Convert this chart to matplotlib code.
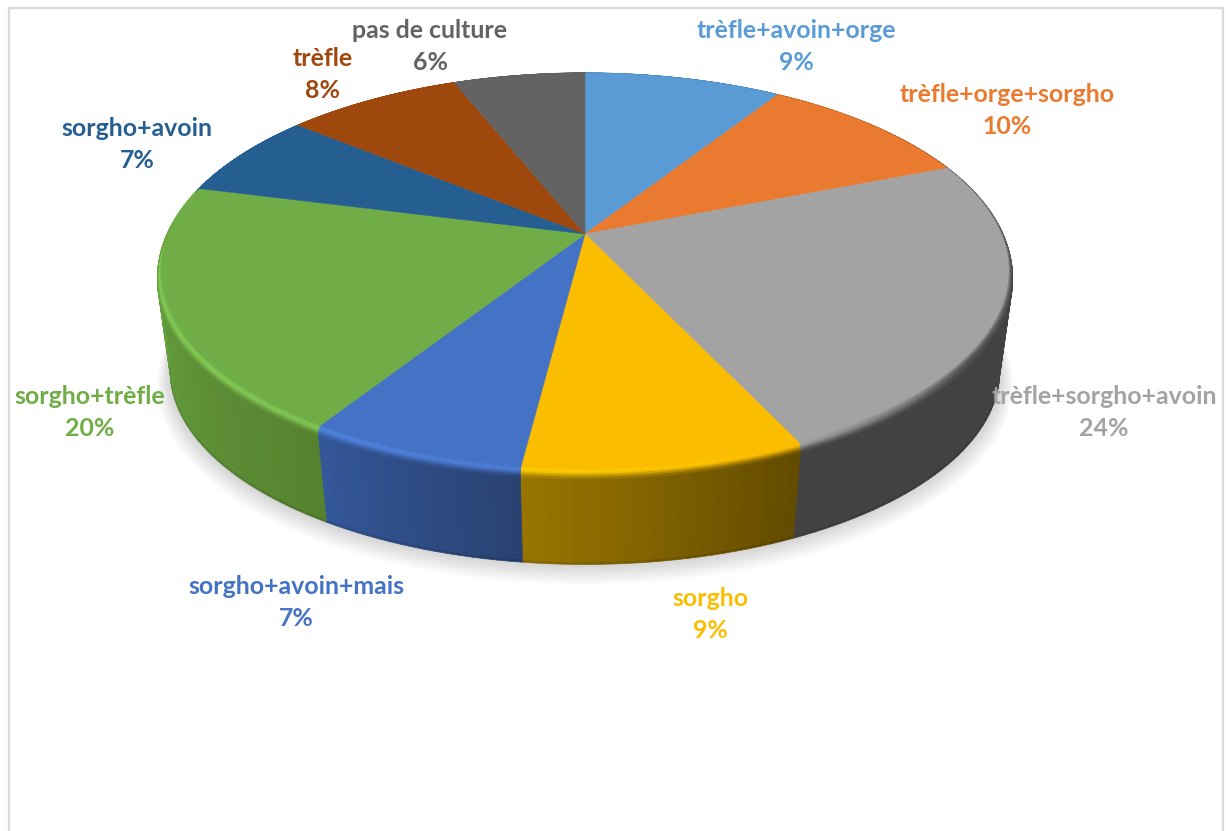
import numpy as np
import matplotlib
matplotlib.use("Agg")
import matplotlib.pyplot as plt
from matplotlib.collections import PolyCollection
from matplotlib.colors import to_rgb

# Values and labels
categories = ["trèfle+avoin+orge", "trèfle+orge+sorgho", "trèfle+sorgho+avoin", "sorgho",
              "sorgho+avoin+mais", "sorgho+trèfle", "sorgho+avoin", "trèfle", "pas de culture"]
values = [9, 10, 24, 9, 7, 20, 7, 8, 6]
colors = ["#5b9bd5", "#ea7a2f", "#a3a3a3", "#fbbd00", "#4472c4", "#70ad47", "#255e91", "#9e480e", "#636363"]

# side wall colours (right end, left end of the visible part)
side_right = ["#2d4e6b", "#774018", "#424242", "#634b00", "#294272", "#56822f", "#1a4268", "#6f3209", "#454545"]
side_left = ["#2d4e6b", "#774018", "#424242", "#9b7700", "#34589a", "#66a040", "#1a4268", "#6f3209", "#454545"]

# label centres, first line and second line, in pixels
label_x = [796, 1007, 1104, 710, 296, 90, 137, 323, 430]
label_y1 = [30, 94, 397, 598, 586, 397, 129, 58, 30]
label_y2 = [62, 126, 429, 630, 618, 429, 161, 90, 62]

# perspective of the disc
cx, cy = 585, 234
a, b, k = 416, 190.8, 0.185
depth, shrink = 101, 0.98
rim_r, rim_z = 1.01, 8


def project(theta, r=1.0, z=0.0):
    # theta in degrees, clockwise from the top of the pie
    t = np.radians(theta)
    w = 1 + k * r * np.cos(t)
    return cx + a * r * np.sin(t) / w, cy - b * r * np.cos(t) / w + z


def bottom(theta, grow=1.0):
    x, y = project(theta)
    return cx + shrink * grow * (x - cx), cy + depth + shrink * grow * (y - cy)


def mix(c1, c2, f):
    c1, c2 = np.array(to_rgb(c1)), np.array(to_rgb(c2))
    return tuple(c1 + (c2 - c1) * f)


def brighten(c, f):
    return tuple(np.clip(np.array(to_rgb(c)) * (1 + f), 0, 1))


fig = plt.figure(figsize=(12.26, 8.31), dpi=100)
ax = fig.add_axes([0, 0, 1, 1])
ax.set_xlim(0, 1226)
ax.set_ylim(831, 0)
ax.axis("off")

# chart frame
ax.plot([8.5, 8.5, 1223, 1223], [840, 8, 8, 840], color="#d9d9d9", lw=1.6)

edges = np.cumsum([0] + values) * 3.6

# soft shadow under the pie
all_theta = np.linspace(0, 360, 361)
n_shadow = 14
for i in range(n_shadow):
    f = (n_shadow - i) / n_shadow
    sx, sy = bottom(all_theta, 1 + 0.032 * f)
    ax.fill(sx, sy + 13 * f, color="black", alpha=0.011, lw=0, zorder=1)

# side wall, slice by slice
quads, quad_cols = [], []
for idx in range(len(values)):
    lo, hi = max(edges[idx], 100), min(edges[idx + 1], 260)
    if hi <= lo:
        continue
    # solid underlay so the thin strips leave no seams
    arc = np.linspace(lo, hi, 60)
    tx, ty = project(arc, rim_r, rim_z)
    bx, by = bottom(arc)
    ax.fill(np.r_[tx, bx[::-1]], np.r_[ty, by[::-1] - 1], lw=0, zorder=1.5,
            color=mix(side_right[idx], side_left[idx], 0.5))
    steps = np.linspace(lo, hi, int((hi - lo) / 1.5) + 2)
    for th0, th1 in zip(steps[:-1], steps[1:]):
        col = mix(side_right[idx], side_left[idx], (th0 - lo) / (hi - lo))
        x0, y0 = project(th0, rim_r, rim_z)
        x1, y1 = project(th1, rim_r, rim_z)
        x2, y2 = bottom(th1)
        x3, y3 = bottom(th0)
        quads.append([(x0, y0), (x1, y1), (x2, y2 - 2), (x3, y3 - 2)])
        quad_cols.append(col)
        # darker lip at the bottom edge
        quads.append([(x3, y3 - 2), (x2, y2 - 2), (x2, y2), (x3, y3)])
        quad_cols.append(mix(col, "black", 0.1))
ax.add_collection(PolyCollection(quads, facecolors=quad_cols, edgecolors=quad_cols, linewidths=0.5, zorder=2))

# rounded rim between top face and side wall
rim_quads, rim_cols = [], []
n_band = 8
for idx in range(len(values)):
    lo, hi = max(edges[idx], 100), min(edges[idx + 1], 260)
    steps = np.linspace(edges[idx], edges[idx + 1], int(values[idx] * 3.6) + 2)
    base = colors[idx]
    for th0, th1 in zip(steps[:-1], steps[1:]):
        f = np.clip((th0 - lo) / max(hi - lo, 1), 0, 1)
        wall = mix(side_right[idx], side_left[idx], f)
        light = np.cos(np.radians(th0 - 245))
        peak = brighten(base, 0.18 * light) if light > 0 else mix(base, wall, min(-light * 1.6, 0.8))
        for j in range(n_band):
            t0, t1 = j / n_band, (j + 1) / n_band
            r0 = 1 + (rim_r - 1) * np.sin(t0 * np.pi / 2)
            r1 = 1 + (rim_r - 1) * np.sin(t1 * np.pi / 2)
            z0 = rim_z * (1 - np.cos(t0 * np.pi / 2))
            z1 = rim_z * (1 - np.cos(t1 * np.pi / 2))
            xa, ya = project(th0, r0, z0)
            xb, yb = project(th1, r0, z0)
            xc, yc = project(th1, r1, z1)
            xd, yd = project(th0, r1, z1)
            tm = (t0 + t1) / 2
            if tm < 0.5:
                col = mix(base, peak, tm / 0.5)
            else:
                col = mix(peak, wall, (tm - 0.5) / 0.5)
            rim_quads.append([(xa, ya), (xb, yb), (xc, yc), (xd, yd)])
            rim_cols.append(col)
ax.add_collection(PolyCollection(rim_quads, facecolors=rim_cols, edgecolors=rim_cols, linewidths=0.5, zorder=3))

# top face
for i, v in enumerate(values):
    arc = np.linspace(edges[i], edges[i + 1], 60)
    px, py = project(arc)
    ax.fill(np.r_[cx, px], np.r_[cy, py], color=colors[i], lw=0.4, zorder=4)

# data labels
for i, name in enumerate(categories):
    ax.text(label_x[i], label_y1[i], name, color=colors[i], fontsize=17.9, family="Lato", weight="bold",
            ha="center", va="center", zorder=5)
    ax.text(label_x[i], label_y2[i], f"{values[i]}%", color=colors[i], fontsize=17.9, family="Lato", weight="bold",
            ha="center", va="center", zorder=5)

fig.savefig("out.png", dpi=100, facecolor="white")
